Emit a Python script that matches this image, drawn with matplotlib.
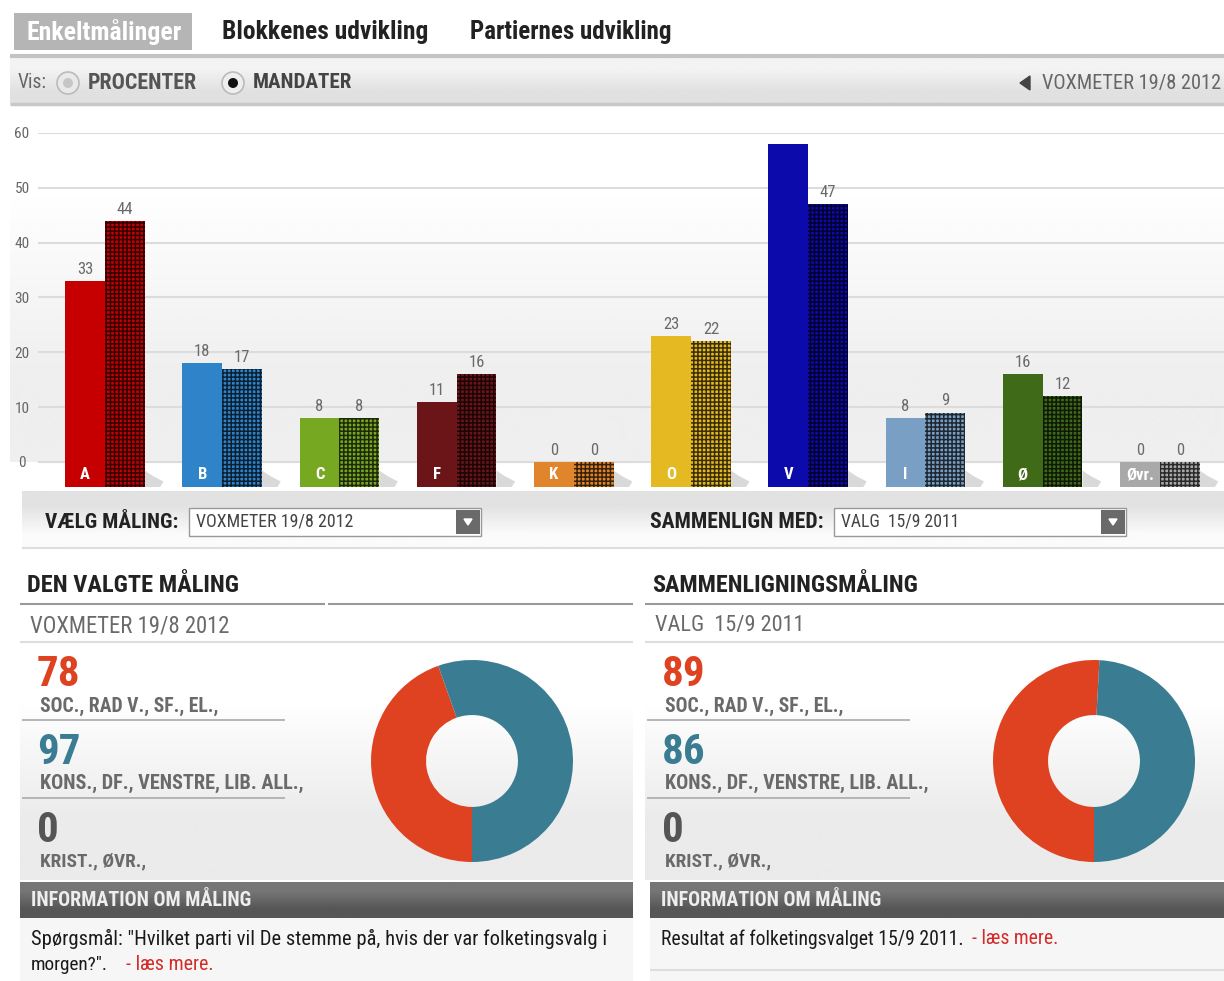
import numpy as np
import matplotlib
matplotlib.use("Agg")
import matplotlib.pyplot as plt
from matplotlib.colors import to_rgb
from matplotlib.patches import Rectangle, Circle, Polygon

plt.rcParams['font.family'] = ['Roboto Condensed', 'Roboto', 'DejaVu Sans']
plt.rcParams['hatch.linewidth'] = 1.1

# seats (mandater) per party
parties = ['A', 'B', 'C', 'F', 'K', 'O', 'V', 'I', 'Ø', 'Øvr.']
voxmeter = [33, 18, 8, 11, 0, 23, 58, 8, 16, 0]
valg_2011 = [44, 17, 8, 16, 0, 22, 47, 9, 12, 0]
party_colors = ['#c60000', '#2f83c9', '#77a822', '#6c1519', '#e0852c',
                '#e4b922', '#0c0aab', '#7a9fc4', '#3f6a18', '#a9a9a9']
y_ticks = [0, 10, 20, 30, 40, 50, 60]

# blocks
block_names = ['SOC., RAD V., SF., EL.,', 'KONS., DF., VENSTRE, LIB. ALL.,', 'KRIST., ØVR.,']
block_widths = [178, 265, 106]
block_colors = ['#df4220', '#3a7c92', '#555555']
blocks_vox = [78, 97, 0]
blocks_valg = [89, 86, 0]

W, H = 1224, 981
fig = plt.figure(figsize=(W / 100, H / 100), dpi=100)
fig.patch.set_facecolor('white')
renderer = fig.canvas.get_renderer()

# page "widgets" drawn in pixel coordinates
ui = fig.add_axes([0, 0, 1, 1])
ui.axis('off')
ui.set_xlim(0, W)
ui.set_ylim(H, 0)


def box(x0, y0, x1, y1, color, ec='none', lw=0, z=1):
    ui.add_patch(Rectangle((x0, y0), x1 - x0, y1 - y0, facecolor=color,
                           edgecolor=ec, linewidth=lw, zorder=z))


def grad(x0, y0, x1, y1, top, bottom):
    img = np.array([[to_rgb(top)], [to_rgb(bottom)]])
    ui.imshow(img, extent=(x0, x1, y1, y0), aspect='auto',
              interpolation='bilinear', zorder=0)


def hline(y, x0, x1, color='#cccccc', lw=1.5):
    ui.plot([x0, x1], [y, y], color=color, lw=lw, solid_capstyle='butt', zorder=2)


def txt(x, y, s, size=13, color='#222222', weight='normal', fit=None):
    t = ui.text(x, y, s, fontsize=size, color=color, weight=weight,
                va='center', ha='left', zorder=3)
    if fit:
        bb = t.get_window_extent(renderer)
        t.set_fontsize(size * fit / bb.width)
    return t


# tabs
box(14, 13, 192, 50, '#b5b5b5')
txt(27, 32, 'Enkeltmålinger', 15, 'white', 'bold', 155)
txt(222, 32, 'Blokkenes udvikling', 15, '#222222', 'bold', 206)
txt(470, 32, 'Partiernes udvikling', 15, '#222222', 'bold', 202)

# toolbar
hline(56, 10, W, '#c4c4c4', 3)
grad(10, 58, W, 103, '#f3f3f3', '#e1e1e1')
hline(104, 10, W, '#c8c8c8', 2.5)
txt(18, 83, 'Vis:', 13, '#666666', fit=29)
ui.add_patch(Circle((68, 83), 11, facecolor='#e9e9e9', edgecolor='#bbbbbb', lw=1.2, zorder=3))
ui.add_patch(Circle((68, 83), 5, facecolor='#c6c6c6', edgecolor='none', zorder=4))
txt(88, 83, 'PROCENTER', 13, '#555555', 'bold', 109)
ui.add_patch(Circle((233, 83), 11, facecolor='#eeeeee', edgecolor='#bbbbbb', lw=1.2, zorder=3))
ui.add_patch(Circle((233, 83), 5, facecolor='#111111', edgecolor='none', zorder=4))
txt(253, 83, 'MANDATER', 13, '#444444', 'bold', 99)
ui.add_patch(Polygon([(1020, 83), (1030, 76), (1030, 90)], color='#444444', zorder=3))
txt(1042, 83, 'VOXMETER 19/8 2012', 13, '#666666', fit=178)

# chart background
grad(10, 110, W, 462, '#ffffff', '#efefef')

# selector panel
grad(22, 491, W, 548, '#e2e2e2', '#fbfbfb')
hline(548, 22, W, '#dddddd', 1.5)
for x_lab, x_box, lab, lab_w, val, val_w in [
        (45, 189, 'VÆLG MÅLING:', 133, 'VOXMETER 19/8 2012', 157),
        (650, 834, 'SAMMENLIGN MED:', 173, 'VALG  15/9 2011', 118)]:
    txt(x_lab, 522, lab, 12.5, '#222222', 'bold', lab_w)
    box(x_box, 508, x_box + 292, 536, 'white', '#999999', 1, z=2)
    txt(x_box + 7, 522, val, 11, '#444444', fit=val_w)
    box(x_box + 267, 510, x_box + 291, 534, '#6a6a6a', z=3)
    ui.add_patch(Polygon([(x_box + 275, 519), (x_box + 283, 519), (x_box + 279, 525)],
                         color='white', zorder=4))

# lower panels
panels = [(20, 633, 'DEN VALGTE MÅLING', 213, 'VOXMETER 19/8 2012', 201, blocks_vox, 472,
           'Spørgsmål: "Hvilket parti vil De stemme på, hvis der var folketingsvalg i', 571),
          (645, W, 'SAMMENLIGNINGSMÅLING', 266, 'VALG  15/9 2011', 150, blocks_valg, 1094,
           'Resultat af folketingsvalget 15/9 2011.', 302)]
for x0, x1, title, title_w, sub, sub_w, blocks, cx, info, info_w in panels:
    txt(x0 + 7, 585, title, 15.5, '#222222', 'bold', title_w)
    if x0 < 600:
        hline(604, x0, 325, '#999999', 1.5)
        hline(604, 328, x1, '#999999', 1.5)
    else:
        hline(604, x0, x1, '#999999', 1.5)
    txt(x0 + 10, 626, sub, 14, '#6a6a6a', fit=sub_w)
    hline(642, x0, x1, '#dddddd', 1.5)
    grad(x0, 645, x1, 880, '#ffffff', '#ebebeb')

    for k, (val, name, name_w, col) in enumerate(zip(blocks, block_names, block_widths, block_colors)):
        yc = 675 + 77.5 * k
        txt(x0 + 17, yc, str(val), 31, col, 'bold')
        txt(x0 + 20, yc + 31, name, 12.5, '#6a6a6a', 'bold', name_w)
        if k < 2:
            hline(yc + 45, x0 + 2, x0 + 265, '#aaaaaa', 1.2)

    dx = fig.add_axes([(cx - 101) / W, 1 - (761 + 101) / H, 202 / W, 202 / H])
    dx.pie(blocks, colors=block_colors, startangle=270, counterclock=False,
           radius=1, wedgeprops=dict(width=0.545, linewidth=0))
    dx.set_xlim(-1, 1)
    dx.set_ylim(-1, 1)
    dx.axis('off')

    hx0 = x0 if x0 < 600 else 650
    grad(hx0, 882, x1, 918, '#767676', '#565656')
    txt(hx0 + 11, 900, 'INFORMATION OM MÅLING', 12.5, '#eeeeee', 'bold', 220)
    box(hx0, 918, x1, H, '#f6f6f6', z=0)
    txt(hx0 + 11, 939, info, 13, '#1a1a1a', fit=info_w)

txt(31, 965, 'morgen?".', 13, '#1a1a1a', fit=77)
txt(126, 965, '- læs mere.', 13, '#d42b2b', fit=87)
txt(972, 939, '- læs mere.', 13, '#d42b2b', fit=86)
hline(970, 650, W, '#dddddd', 1.5)

ui.set_xlim(0, W)
ui.set_ylim(H, 0)

# bar chart
floor = -4.56
w = 0.34
bx = fig.add_axes([38 / W, 1 - 487 / H, 1 - 38 / W, (487 - 133) / H])
bx.set_facecolor('none')
x = np.arange(len(parties))
vox = np.array(voxmeter)
valg = np.array(valg_2011)
bx.bar(x - w / 2, vox - floor, bottom=floor, width=w, color=party_colors, linewidth=0, zorder=3)
bx.bar(x + w / 2, valg - floor, bottom=floor, width=w, color=party_colors,
       hatch='++++', edgecolor=(0, 0, 0, 0.75), linewidth=0, zorder=3)

# soft shadow at the foot of each pair
for i in range(len(parties)):
    xr = x[i] + w
    bx.fill([xr, xr + 0.07, xr + 0.16, xr + 0.13, xr],
            [floor + 3.0, floor + 2.0, floor + 1.0, floor, floor],
            color='#444444', alpha=0.2, linewidth=0, zorder=2)

for i in range(len(parties)):
    if vox[i] + 3 < 60:
        bx.annotate(str(vox[i]), (x[i] - w / 2, vox[i]), xytext=(0, 3),
                    textcoords='offset points', ha='center', va='bottom',
                    fontsize=12, color='#6a6a6a')
    bx.annotate(str(valg[i]), (x[i] + w / 2, valg[i]), xytext=(0, 3),
                textcoords='offset points', ha='center', va='bottom',
                fontsize=12, color='#6a6a6a')
    bx.text(x[i] - w / 2, floor + 2.2, parties[i], ha='center', va='center',
            fontsize=12, color='white', weight='bold', zorder=4)

bx.set_xlim(-0.5717, 9.548)
bx.set_ylim(floor, 60)
bx.set_yticks(y_ticks)
bx.set_xticks([])
bx.grid(axis='y', color='#dcdcdc', lw=1.5)
bx.set_axisbelow(True)
bx.tick_params(axis='y', length=0, labelsize=11, labelcolor='#666666', pad=11.5)
for lab in bx.get_yticklabels():
    lab.set_ha('center')
for s in bx.spines.values():
    s.set_visible(False)

fig.savefig('out.png', dpi=100, facecolor='white')
